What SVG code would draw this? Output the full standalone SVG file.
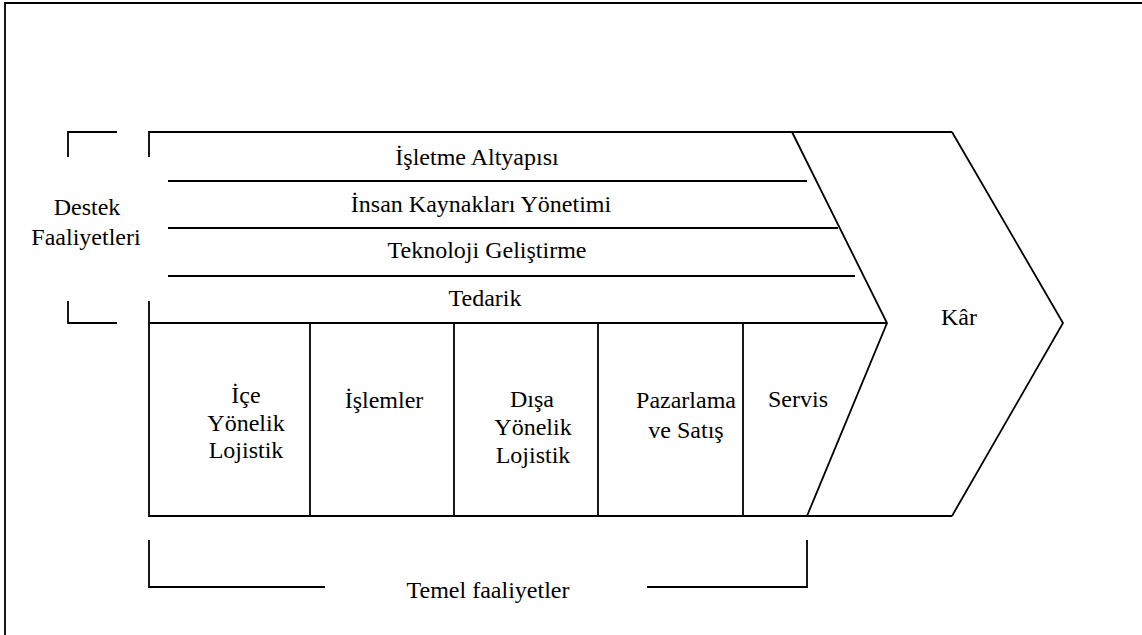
<svg xmlns="http://www.w3.org/2000/svg" width="1142" height="635" viewBox="0 0 1142 635">
<style>
.ln{fill:none;stroke:#000;stroke-width:1.8;stroke-linejoin:miter}
.t{font-family:'Liberation Serif','Times New Roman',serif;font-size:24px;fill:#000;text-anchor:middle}
</style>
<rect width="1142" height="635" fill="#fff"/>
<path class="ln" d="M5,635 V3 H1142"/>
<g id="connectors">
<path class="ln" d="M68,157 V132 H117"/>
<path class="ln" d="M68,301 V323 H117"/>
<path class="ln" d="M149,540 V587 H325"/>
<path class="ln" d="M647,587 H807 V540"/>
</g>
<g id="support">
<path class="ln" d="M149,157 V132 H952"/>
<path class="ln" d="M168,181 H807"/>
<path class="ln" d="M168,228 H838"/>
<path class="ln" d="M168,276 H855"/>
<path class="ln" d="M149,323 H887"/>
<path class="ln" d="M792,132 L887,323 L807,516"/>
</g>
<g id="primary">
<path class="ln" d="M149,301 V516 H952"/>
<path class="ln" d="M310,323 V516 M454,323 V516 M598,323 V516 M743,323 V516"/>
</g>
<g id="kar">
<path class="ln" d="M952,132 L1063,323 L952,516"/>
<text class="t" x="959" y="325">Kâr</text>
</g>
<g id="labels">
<text class="t" x="477" y="165">İşletme Altyapısı</text>
<text class="t" x="481" y="212">İnsan Kaynakları Yönetimi</text>
<text class="t" x="487" y="258">Teknoloji Geliştirme</text>
<text class="t" x="485" y="306">Tedarik</text>
<text class="t" x="87" y="215">Destek</text>
<text class="t" x="86" y="245">Faaliyetleri</text>
<text class="t" x="246" y="403">İçe</text>
<text class="t" x="246" y="431">Yönelik</text>
<text class="t" x="246" y="458">Lojistik</text>
<text class="t" x="384" y="408">İşlemler</text>
<text class="t" x="532" y="407">Dışa</text>
<text class="t" x="533" y="435">Yönelik</text>
<text class="t" x="533" y="463">Lojistik</text>
<text class="t" x="686" y="408">Pazarlama</text>
<text class="t" x="686" y="438">ve Satış</text>
<text class="t" x="798" y="407">Servis</text>
<text class="t" x="488" y="598">Temel faaliyetler</text>
</g>
</svg>
